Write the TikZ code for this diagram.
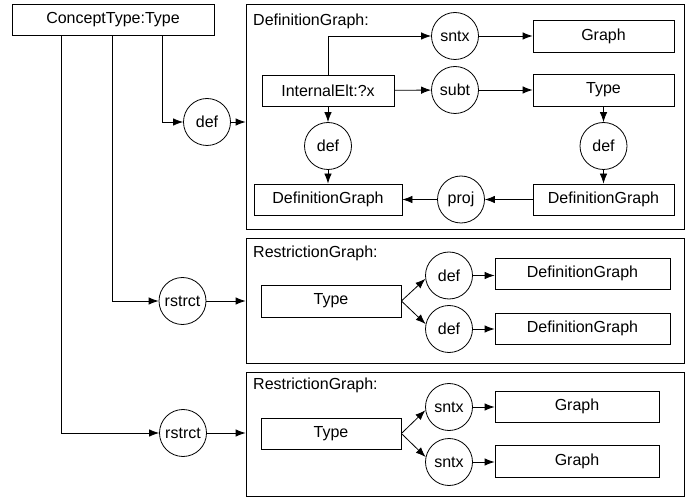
\documentclass[tikz,border=0pt]{standalone}
\usepackage{fontspec}
\setmainfont{Liberation Sans}
\usetikzlibrary{arrows.meta}
\tikzset{
  box/.style={draw, line width=0.8pt, inner sep=0pt, minimum height=31pt},
  rel/.style={draw, circle, line width=0.8pt, inner sep=0pt, minimum size=47pt},
  panel/.style={draw, line width=0.8pt, inner sep=0pt},
  tag/.style={anchor=west, inner sep=0pt},
  arr/.style={line width=0.8pt, -{Latex[length=10pt,width=7.5pt]}},
  link/.style={line width=0.8pt},
}
\begin{document}
\begin{tikzpicture}[x=1pt, y=-1pt, font=\fontsize{16}{19}\selectfont]
\useasboundingbox (0,0) rectangle (686,497);

% top-level concept
\node[box, minimum width=202pt] (ct) at (113,19.5) {ConceptType:Type};

% ---- definition graph panel ----
\node[panel, minimum width=438pt, minimum height=225pt] (p1) at (465,116.5) {};
\node[tag] (l1) at (253,21) {DefinitionGraph:};
\node[box, minimum width=132pt] (ie) at (328,90.5) {InternalElt:?x};
\node[rel] (sx) at (455,36) {sntx};
\node[rel] (sb) at (455,90) {subt};
\node[box, minimum width=141pt, minimum height=32pt] (gr) at (603.5,36) {Graph};
\node[box, minimum width=141pt, minimum height=32pt] (ty) at (603.5,90) {Type};
\node[rel] (dl) at (328,146) {def};
\node[rel] (dr) at (603.5,146) {def};
\node[box, minimum width=148pt] (gl) at (328,199.5) {DefinitionGraph};
\node[box, minimum width=141pt] (grr) at (603.5,199.5) {DefinitionGraph};
\node[rel] (pj) at (461,199.5) {proj};

\node[rel] (d0) at (207,122) {def};

% ---- first restriction panel ----
\node[panel, minimum width=438pt, minimum height=125pt] (p2) at (465,300.5) {};
\node[tag] (l2) at (253,253) {RestrictionGraph:};
\node[box, minimum width=140pt, minimum height=32pt] (t2) at (331,301) {Type};
\node[rel] (e1) at (449,275.5) {def};
\node[rel] (e2) at (449,329) {def};
\node[box, minimum width=175pt] (g1) at (582.5,273.5) {DefinitionGraph};
\node[box, minimum width=175pt] (g2) at (582.5,328.5) {DefinitionGraph};
\node[rel] (r1) at (182.5,301) {rstrct};

% ---- second restriction panel ----
\node[panel, minimum width=438pt, minimum height=124pt] (p3) at (465,434) {};
\node[tag] (l3) at (253,385) {RestrictionGraph:};
\node[box, minimum width=140pt] (t3) at (331,433.5) {Type};
\node[rel] (s1) at (449,407) {sntx};
\node[rel] (s2) at (449,462) {sntx};
\node[box, minimum width=164pt] (h1) at (577,406.5) {Graph};
\node[box, minimum width=164pt, minimum height=32pt] (h2) at (577,461) {Graph};
\node[rel] (r2) at (183,433) {rstrct};

% connectors from the concept
\draw[arr] ([xshift=151pt]ct.south west) |- (d0);
\draw[arr] ([xshift=101pt]ct.south west) |- (r1);
\draw[arr] ([xshift=50pt]ct.south west) |- (r2);
\draw[arr] (d0) -- (d0 -| p1.west);
\draw[arr] (r1) -- (r1 -| p2.west);
\draw[arr] (r2) -- (r2 -| p3.west);

% definition graph relations
\draw[arr] (ie.north) |- (sx);
\draw[arr] (sx) -- (gr);
\draw[arr] (ie) -- (sb);
\draw[arr] (sb) -- (ty);
\draw[arr] (ie) -- (dl);
\draw[arr] (dl) -- (gl);
\draw[arr] (ty) -- (dr);
\draw[arr] (dr) -- (grr);
\draw[arr] (grr) -- (pj);
\draw[arr] (pj) -- (gl);

% restriction relations
\draw[arr] (t2.east) -- (e1.188);
\draw[arr] (t2.east) -- (e2.168);
\draw[arr] (e1) -- (e1 -| g1.west);
\draw[arr] (e2) -- (e2 -| g2.west);
\draw[arr] (t3.east) -- (s1.188);
\draw[arr] (t3.east) -- (s2.168);
\draw[arr] (s1) -- (s1 -| h1.west);
\draw[arr] (s2) -- (s2 -| h2.west);
\end{tikzpicture}
\end{document}
